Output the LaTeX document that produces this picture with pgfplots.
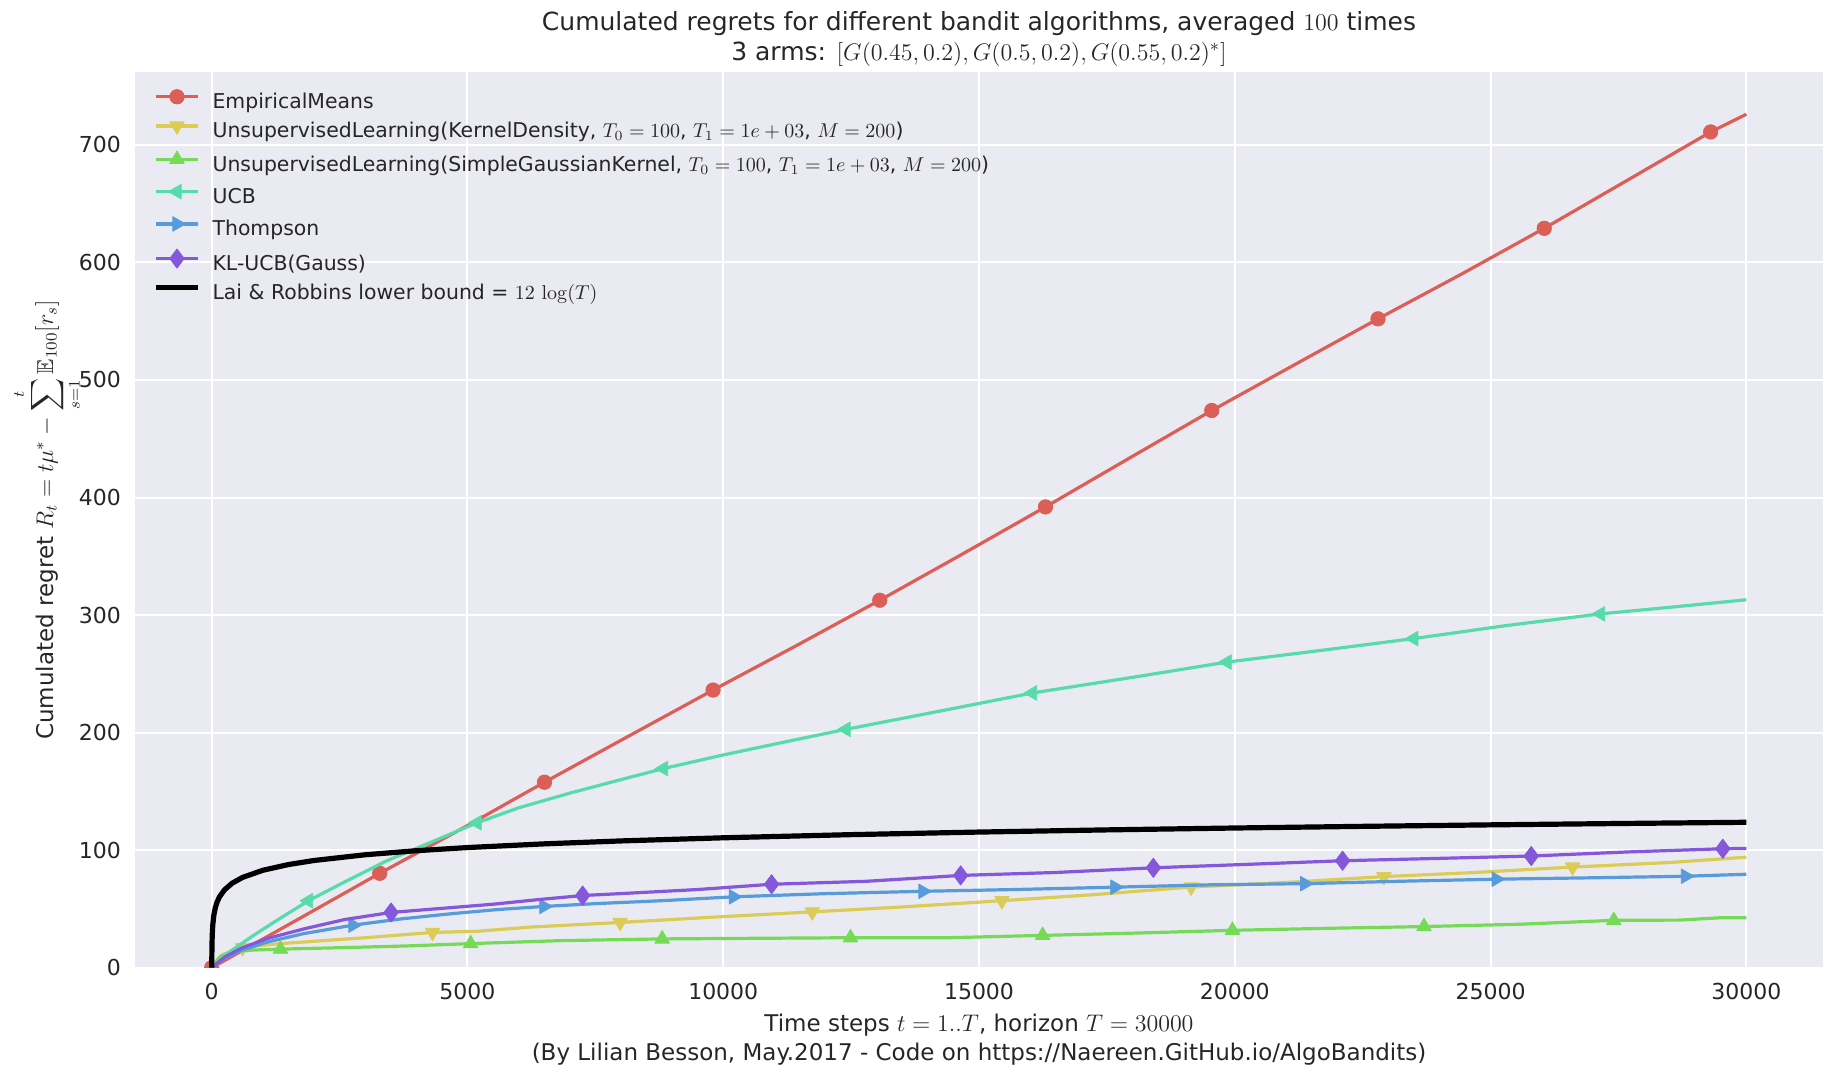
\documentclass[border=0pt]{standalone}
\usepackage{amssymb}
\usepackage[no-math]{fontspec}
\setmainfont{DejaVu Sans}
\usepackage{pgfplots}
\pgfplotsset{compat=1.18}
\definecolor{axbg}{RGB}{234,234,242}
\definecolor{txt}{RGB}{38,38,38}
\definecolor{cred}{RGB}{219,95,87}
\definecolor{cyel}{RGB}{219,204,87}
\definecolor{cgrn}{RGB}{117,219,87}
\definecolor{cteal}{RGB}{87,219,170}
\definecolor{cblue}{RGB}{87,155,219}
\definecolor{cpurp}{RGB}{132,87,219}
\begin{document}
\begin{tikzpicture}
\useasboundingbox (0,0) rectangle (917pt,538pt);
\begin{axis}[
  at={(67.5pt,54.15pt)}, anchor=south west,
  scale only axis, width=844pt, height=447.85pt,
  xmin=-1500, xmax=31500, ymin=0, ymax=762,
  enlargelimits=false,
  axis background/.style={fill=axbg},
  axis line style={draw=none},
  major tick length=0pt,
  grid=major, grid style={white, line width=1pt},
  xtick={0,5000,...,30000}, ytick={0,100,...,700},
  scaled ticks=false,
  /pgf/number format/1000 sep={},
  /pgf/number format/assume math mode=true,
  tick label style={font=\fontsize{11}{13}\selectfont, text=txt},
  xticklabel style={yshift=-4.3pt},
  yticklabel style={xshift=-3.5pt},
  clip marker paths=true,
  legend cell align=left,
  legend style={at={(0,1)}, anchor=north west, xshift=9pt, yshift=-8.6pt,
    draw=none, fill=none, inner sep=0pt, row sep=3.5pt, column sep=0pt,
    font=\fontsize{10.2}{12}\selectfont, text=txt,
    nodes={inner sep=0pt, text height=8pt, text depth=3pt}},
  legend image code/.code={
    \draw[mark=none] (0pt,3.5pt) -- (21pt,3.5pt);
    \draw[mark indices={1}] plot coordinates {(10.5pt,3.5pt)};
    \path[draw=none, fill=none] (0pt,0pt) -- (28.3pt,0pt);
  },
  every axis plot/.append style={line join=round},
]
% EmpiricalMeans
\addplot[color=cred, line width=1.6pt, mark=*, mark size=3.6pt,
  mark options={solid, fill=cred, draw=cred, line width=0.4pt},
  mark indices={1,4,7,10,13,16,19,22,25,28}] coordinates {
(0,0)(0,0)(1600,39)(3284,80.3)(3284,80.3)(4900,118.5)(6505,157.8)(6505,157.8)
(8150,197)(9801,236.2)(9801,236.2)(11430,274)(13060,312.6)(13060,312.6)
(14680,352)(16300,392)(16300,392)(17920,433)(19550,474)(19550,474)
(21170,513)(22800,552)(22800,552)(24430,590)(26050,629)(26050,629)
(27680,670)(29303,711)(29303,711)(30000,726)};
\addlegendentry{EmpiricalMeans}
% KernelDensity
\addplot[color=cyel, line width=1.6pt, mark=triangle*, mark size=4.2pt,
  mark options={solid, fill=cyel, draw=cyel, line width=0.4pt, rotate=180},
  mark indices={3,8,12,15,18,21,24,27}] coordinates {
(0,0)(200,11)(600,17)(600,17)(1200,20)(2000,22.5)(3000,25.5)(4316,30)(4316,30)
(5200,31)(6200,34.5)(7985,38.5)(7985,38.5)(9800,43)(11741,47.5)(11741,47.5)
(13430,51.5)(15448,57)(15448,57)(17200,62)(19148,68.6)(19148,68.6)
(21000,72.5)(22915,77.5)(22915,77.5)(24700,81)(26603,85.6)(26603,85.6)
(28500,89.5)(30000,94)};
\addlegendentry{UnsupervisedLearning(KernelDensity, $T_0=100$, $T_1=1e+03$, $M=200$)}
% SimpleGaussianKernel
\addplot[color=cgrn, line width=1.6pt, mark=triangle*, mark size=4.2pt,
  mark options={solid, fill=cgrn, draw=cgrn, line width=0.4pt},
  mark indices={5,9,12,15,18,21,24,27}] coordinates {
(0,0)(150,9)(400,13.5)(800,15)(1343,15.8)(1343,15.8)(2500,17)(3800,18.5)
(5062,20.5)(5062,20.5)(6800,23)(8806,24.5)(8806,24.5)(10600,25)
(12488,25.5)(12488,25.5)(14400,25.5)(16244,27.5)(16244,27.5)(18100,29.5)
(19955,31.8)(19955,31.8)(21800,33.5)(23700,35)(23700,35)(25600,37)
(27410,40.3)(27410,40.3)(28700,40.5)(29500,42.5)(30000,42.5)};
\addlegendentry{UnsupervisedLearning(SimpleGaussianKernel, $T_0=100$, $T_1=1e+03$, $M=200$)}
% UCB
\addplot[color=cteal, line width=1.6pt, mark=triangle*, mark size=4.2pt,
  mark options={solid, fill=cteal, draw=cteal, line width=0.4pt, rotate=90},
  mark indices={5,10,15,19,22,25,28,31}] coordinates {
(0,0)(300,12)(800,27)(1300,41)(1891,57)(1891,57)(2600,73)(3400,90.5)
(4300,107)(5187,123.3)(5187,123.3)(6000,136)(7000,148.5)(8000,160)
(8831,169.4)(8831,169.4)(10000,181)(11200,192)(12400,202.8)(12400,202.8)
(14200,218)(16045,233.7)(16045,233.7)(18000,247)(19850,260)(19850,260)
(21700,270)(23500,280)(23500,280)(25300,291)(27150,301)(27150,301)
(28600,307)(30000,313)};
\addlegendentry{UCB}
% Thompson
\addplot[color=cblue, line width=1.6pt, mark=triangle*, mark size=4.2pt,
  mark options={solid, fill=cblue, draw=cblue, line width=0.4pt, rotate=-90},
  mark indices={6,11,15,18,21,24,27,30}] coordinates {
(0,0)(250,8)(600,15)(1100,22)(1800,29)(2761,36.2)(2761,36.2)(3700,41.5)
(4700,46)(5600,49.5)(6493,52.1)(6493,52.1)(7500,54.5)(8800,57)
(10199,60.3)(10199,60.3)(12000,63)(13905,65)(13905,65)(15700,66.5)
(17657,68.5)(17657,68.5)(19500,70.5)(21368,71.5)(21368,71.5)(23200,73.5)
(25112,75.3)(25112,75.3)(27000,76.5)(28812,77.8)(28812,77.8)(30000,79.5)};
\addlegendentry{Thompson}
% KL-UCB
\addplot[color=cpurp, line width=1.6pt, mark=diamond*, mark size=4.8pt,
  mark options={solid, fill=cpurp, draw=cpurp, line width=0.4pt},
  mark indices={7,12,16,19,22,25,28,31}] coordinates {
(0,0)(250,9)(600,17)(1100,25)(1800,33)(2600,41)(3507,47)(3507,47)
(4500,50.5)(5500,54)(6400,58)(7251,61.4)(7251,61.4)(8200,63.5)(9500,66.5)
(10945,71)(10945,71)(12800,73.5)(14641,78.5)(14641,78.5)(16500,81)
(18408,85)(18408,85)(20300,88)(22108,91)(22108,91)(24000,93)
(25796,95)(25796,95)(27700,98.5)(29540,101.2)(29540,101.2)(30000,101.5)};
\addlegendentry{KL-UCB(Gauss)}
% Lai & Robbins 12 log(T)
\addplot[color=black, line width=2.6pt, mark=none] coordinates {
(1,0)(2,8.32)(5,19.31)(10,27.63)(20,35.95)(40,44.27)(70,50.98)(100,55.26)
(150,60.13)(250,66.26)(400,71.90)(600,76.76)(1000,82.89)(1500,87.76)
(2000,91.21)(3000,96.08)(4000,99.53)(5000,102.21)(6500,105.36)(8000,107.85)
(10000,110.52)(12500,113.20)(15000,115.39)(17500,117.24)(20000,118.84)
(22500,120.25)(25000,121.52)(27500,122.66)(30000,123.71)};
\addlegendentry{Lai \& Robbins lower bound = $12\,\log(T)$}
\end{axis}
\begin{scope}[text=txt]
\node[anchor=center, font=\fontsize{12.5}{15}\selectfont] at (489.5pt,526.3pt)
  {Cumulated regrets for different bandit algorithms, averaged $100$ times};
\node[anchor=center, font=\fontsize{12.5}{15}\selectfont] at (489.5pt,511pt)
  {3 arms: $[G(0.45, 0.2), G(0.5, 0.2), G(0.55, 0.2)^*]$};
\node[anchor=center, font=\fontsize{11.5}{14}\selectfont] at (489.5pt,25.5pt)
  {Time steps $t=1..T$, horizon $T=30000$};
\node[anchor=center, font=\fontsize{11.5}{14}\selectfont] at (489.5pt,10.8pt)
  {(By Lilian Besson, May.2017 - Code on https://Naereen.GitHub.io/AlgoBandits)};
\node[anchor=center, rotate=90, font=\fontsize{11.5}{14}\selectfont] at (23.5pt,278.1pt)
  {Cumulated regret $R_t = t\mu^* - \displaystyle\sum_{s=1}^{t}\mathbb{E}_{100}[r_s]$};
\end{scope}
\end{tikzpicture}
\end{document}
